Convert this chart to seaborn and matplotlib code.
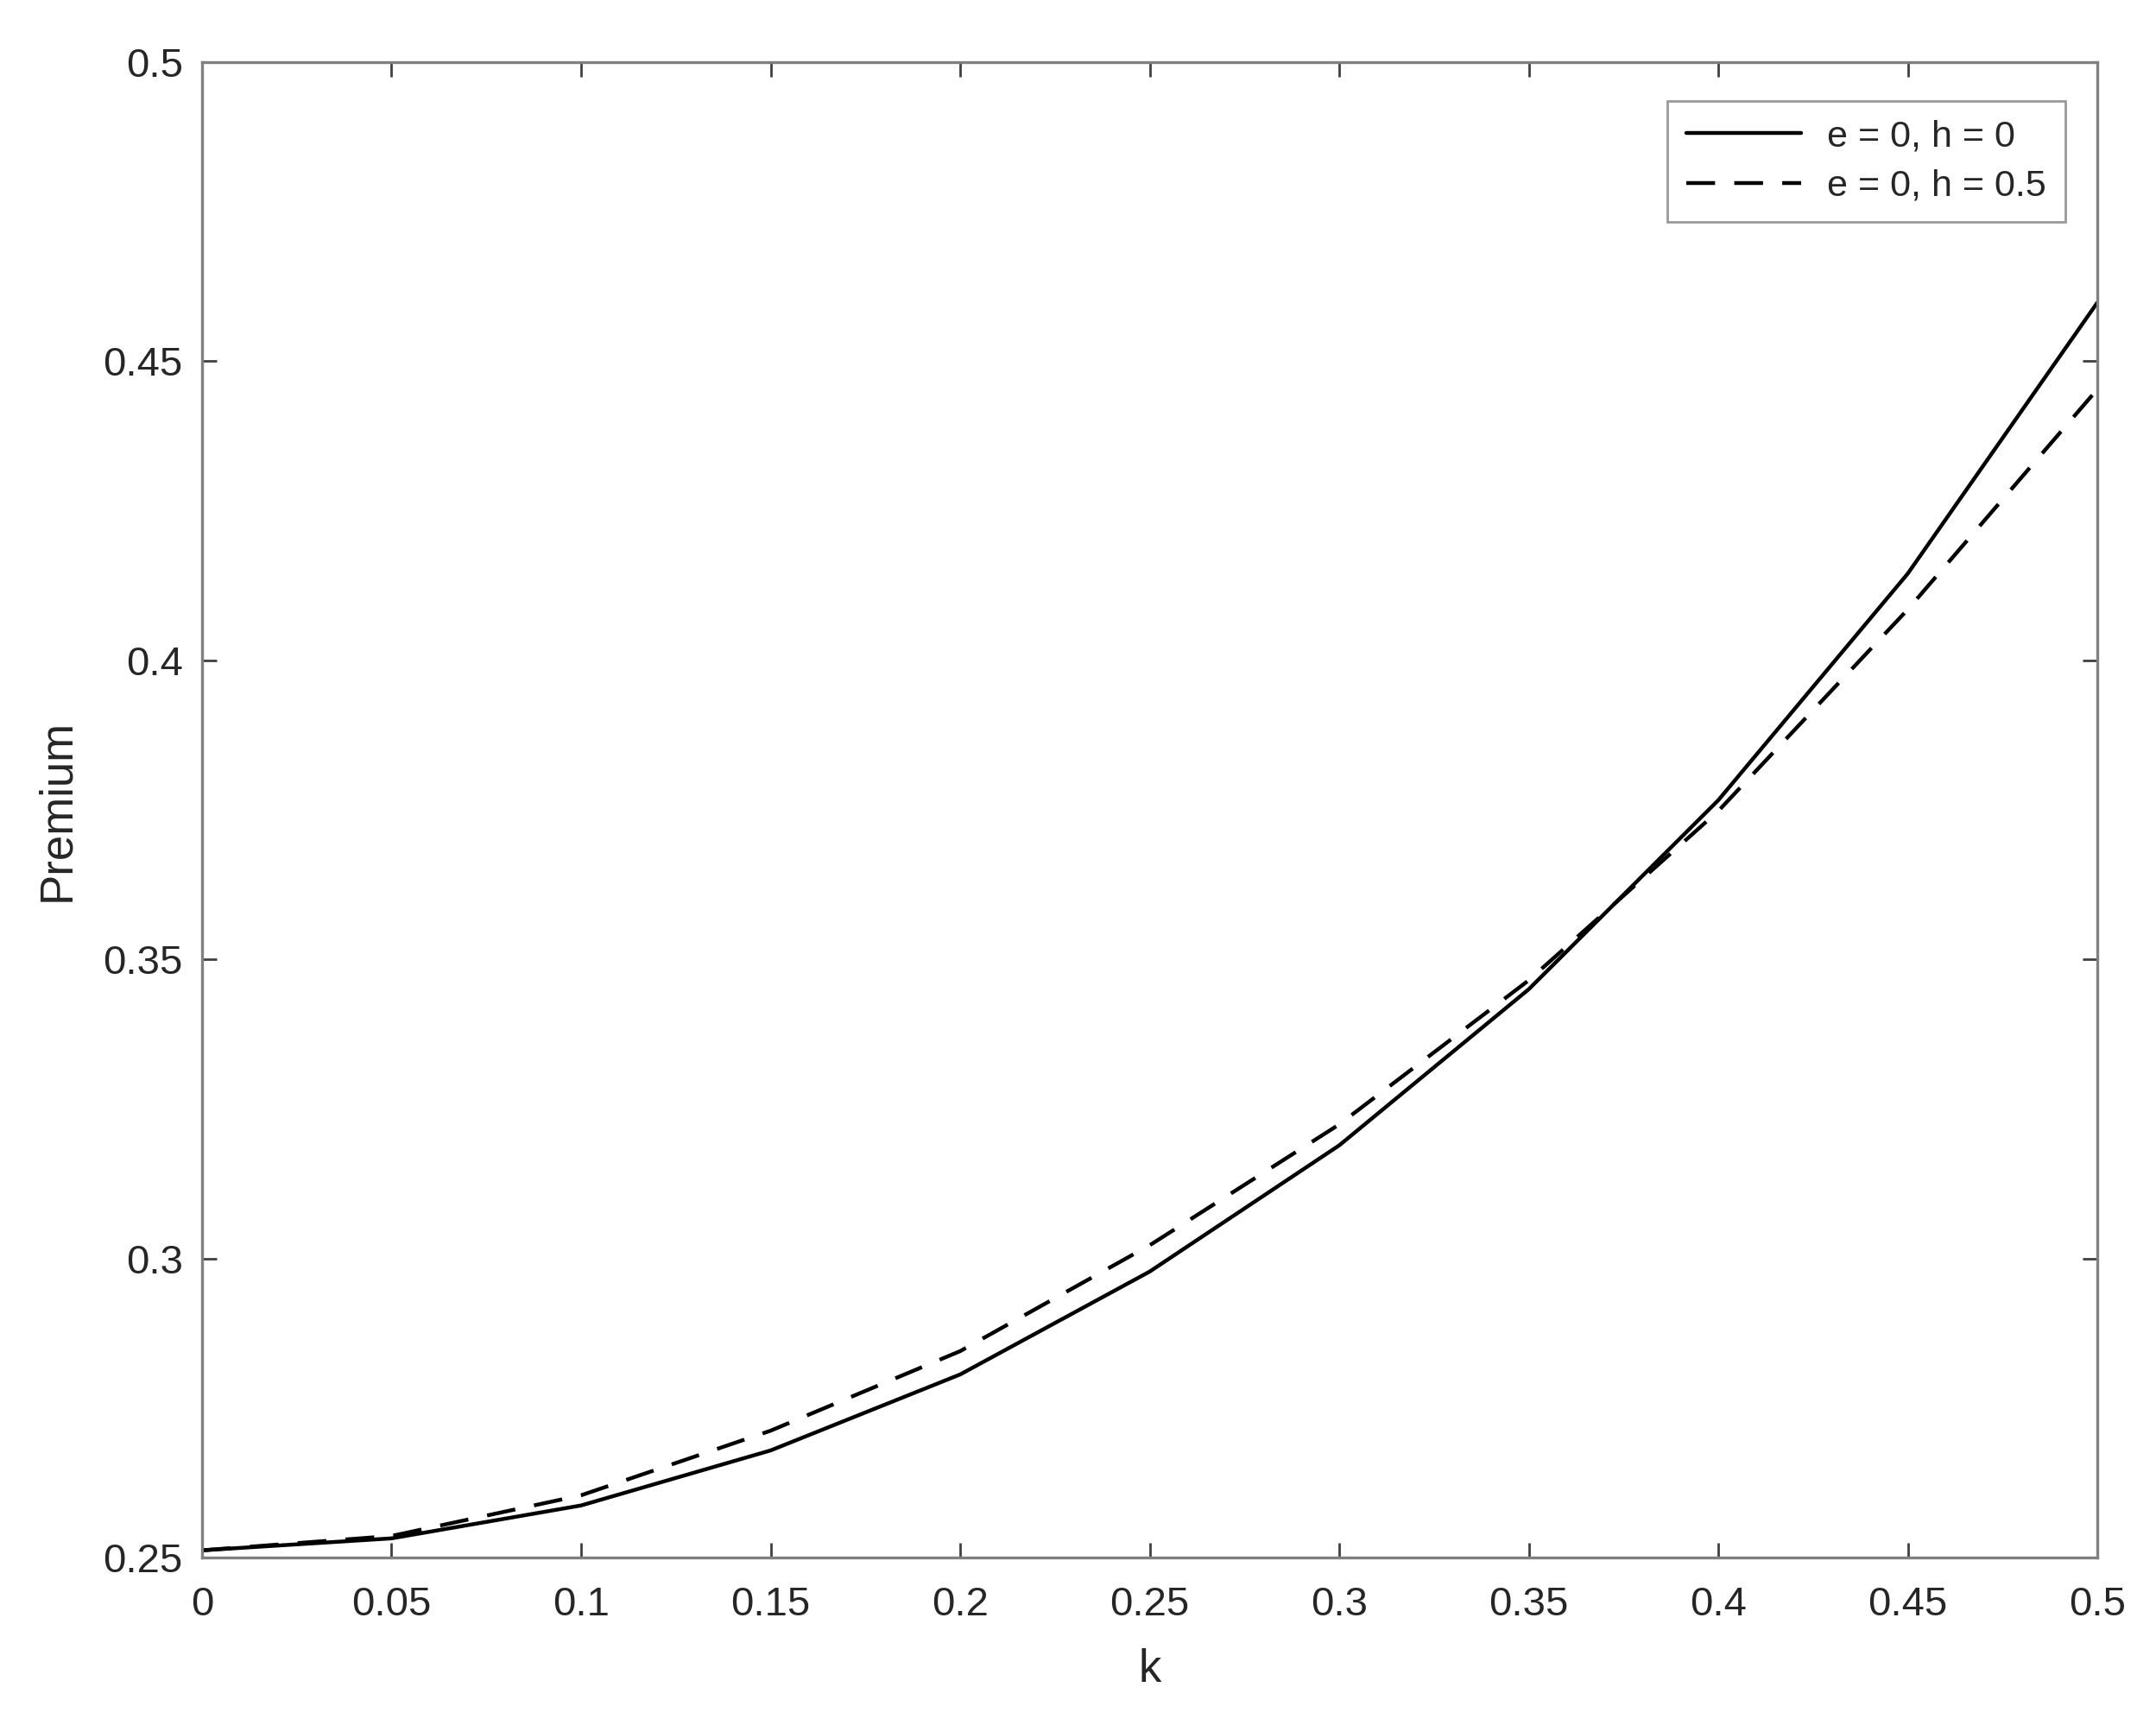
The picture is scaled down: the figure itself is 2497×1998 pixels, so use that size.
import matplotlib
matplotlib.use("Agg")
import matplotlib.pyplot as plt
import seaborn as sns
import pandas as pd
import numpy as np

k = [0.0, 0.05, 0.1, 0.15, 0.2, 0.25, 0.3, 0.35, 0.4, 0.45, 0.5]
premium_h0 = [0.2512, 0.2532, 0.2587, 0.2679, 0.2806, 0.2978, 0.3189, 0.3450, 0.3766, 0.4145, 0.4598]
premium_h05 = [0.2512, 0.2536, 0.2604, 0.2712, 0.2845, 0.3022, 0.3224, 0.3465, 0.3748, 0.4085, 0.4453]
labels = ["e = 0, h = 0", "e = 0, h = 0.5"]
xticks = [0, 0.05, 0.1, 0.15, 0.2, 0.25, 0.3, 0.35, 0.4, 0.45, 0.5]
xticklabels = ["0", "0.05", "0.1", "0.15", "0.2", "0.25", "0.3", "0.35", "0.4", "0.45", "0.5"]
yticks = [0.25, 0.3, 0.35, 0.4, 0.45, 0.5]
yticklabels = ["0.25", "0.3", "0.35", "0.4", "0.45", "0.5"]

df = pd.DataFrame({
    "k": k + k,
    "Premium": premium_h0 + premium_h05,
    "series": [labels[0]] * len(k) + [labels[1]] * len(k),
})

sns.set_theme(style="white")
plt.rcParams["font.family"] = ["Liberation Sans", "DejaVu Sans"]

fig = plt.figure(figsize=(12.485, 9.99), dpi=200)
ax = fig.add_axes([0.0937, 0.0971, 0.8791, 0.8669])

sns.lineplot(data=df, x="k", y="Premium", hue="series", style="series",
             palette=["black", "black"], dashes=[(None, None), (7.5, 5)],
             linewidth=1.6, ax=ax, legend=True)

ax.set_xlim(0, 0.5)
ax.set_ylim(0.25, 0.5)
ax.set_xticks(xticks)
ax.set_xticklabels(xticklabels)
ax.set_yticks(yticks)
ax.set_yticklabels(yticklabels)
ax.set_xlabel("k", fontsize=19, color="#262626", labelpad=10)
ax.set_ylabel("Premium", fontsize=19, color="#262626", labelpad=10)

for s in ax.spines.values():
    s.set_visible(True)
    s.set_color("#808080")
    s.set_linewidth(1.2)

ax.tick_params(axis="both", which="both", direction="in", length=6, width=1.0,
               color="#404040", labelsize=17, labelcolor="#262626",
               top=True, right=True, bottom=True, left=True)
ax.tick_params(axis="x", pad=12)
ax.tick_params(axis="y", pad=8)

handles, lbls = ax.get_legend_handles_labels()
leg = ax.legend(handles, lbls, loc="upper right", fontsize=15.5, frameon=True,
                fancybox=False, edgecolor="#808080", handlelength=3.1,
                bbox_to_anchor=(0.983, 0.974), borderaxespad=0.0,
                labelspacing=0.4, borderpad=0.5, handletextpad=0.7)
leg.get_frame().set_linewidth(1.0)

fig.savefig("out.png", dpi=200)
